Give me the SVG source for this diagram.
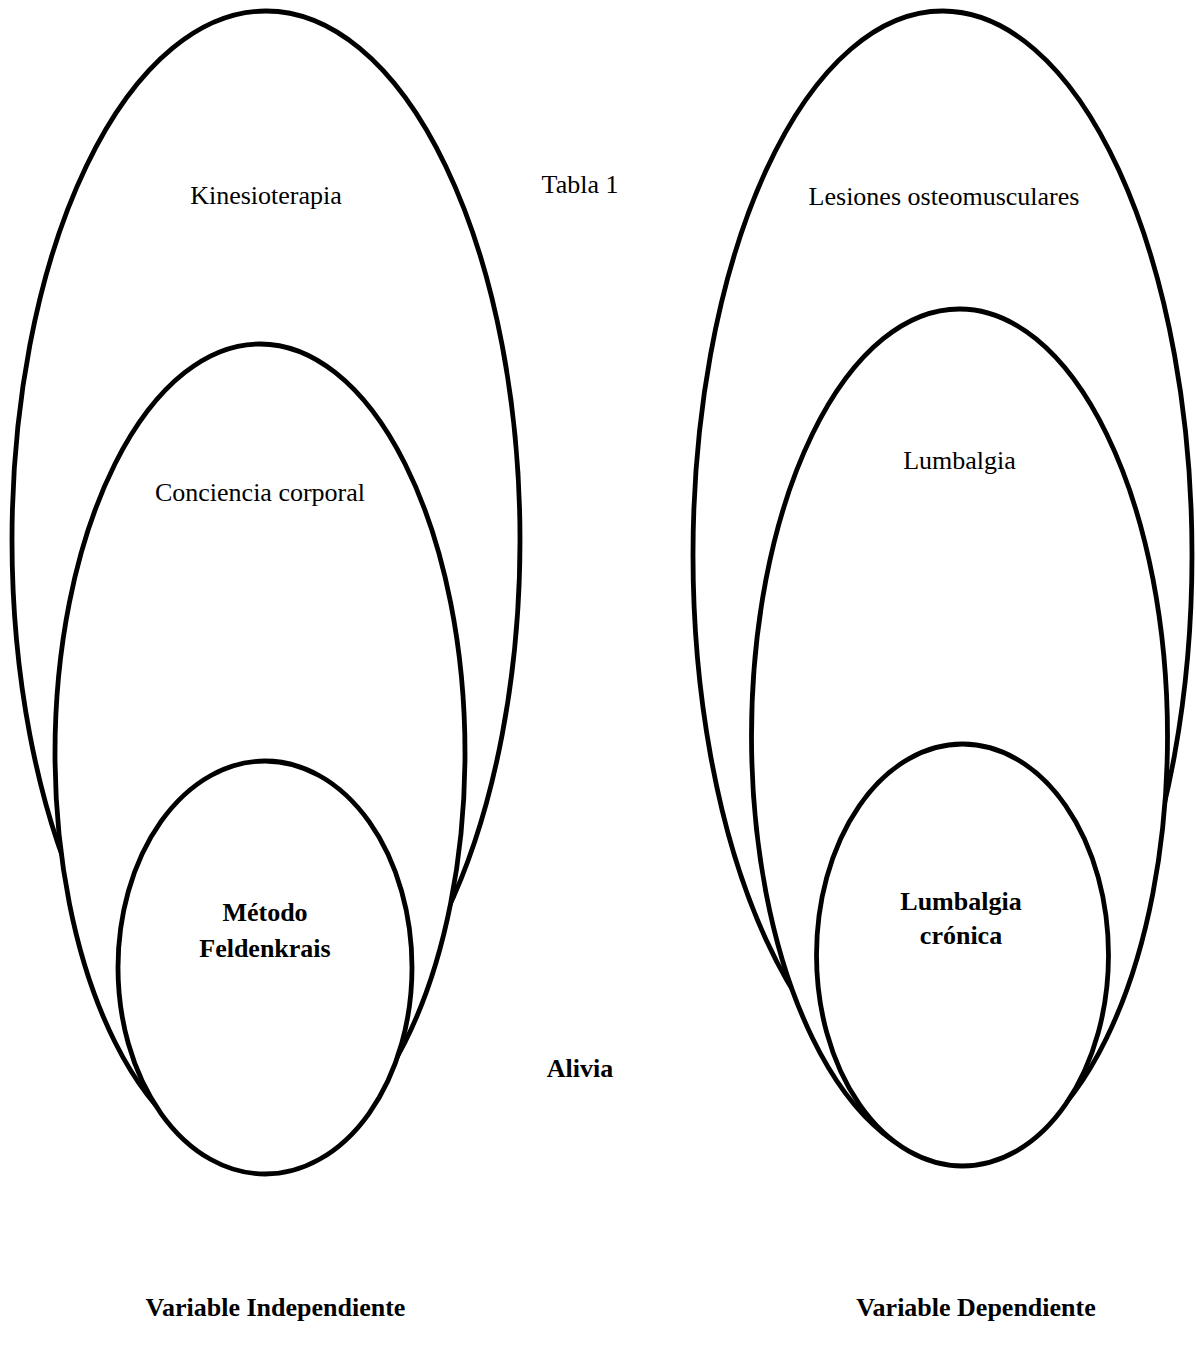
<svg xmlns="http://www.w3.org/2000/svg" width="1196" height="1348" viewBox="0 0 1196 1348">
<style>
.sh{fill:#fff;stroke:#000;stroke-width:4.8}
.t{font-family:"Liberation Serif","Times New Roman",serif;font-size:26px;fill:#000;text-anchor:middle}
.b{font-weight:bold}
</style>
<rect width="1196" height="1348" fill="#fff"/>
<g id="kinesioterapia">
<ellipse class="sh" cx="266" cy="540" rx="254" ry="529"/>
<text class="t" x="266" y="204">Kinesioterapia</text>
</g>
<g id="conciencia-corporal">
<ellipse class="sh" cx="260" cy="753" rx="205" ry="409"/>
<text class="t" x="260" y="501">Conciencia corporal</text>
</g>
<g id="metodo-feldenkrais">
<ellipse class="sh" cx="265" cy="967.5" rx="147" ry="206.5"/>
<text class="t b" x="265" y="921">Método</text>
<text class="t b" x="265" y="957">Feldenkrais</text>
</g>
<g id="lesiones">
<ellipse class="sh" cx="942.5" cy="555" rx="249.5" ry="544"/>
<text class="t" x="944" y="205">Lesiones osteomusculares</text>
</g>
<g id="lumbalgia">
<ellipse class="sh" cx="959.5" cy="736" rx="208" ry="427"/>
<text class="t" x="959.5" y="469">Lumbalgia</text>
</g>
<g id="lumbalgia-cronica">
<ellipse class="sh" cx="962.5" cy="955" rx="146" ry="211"/>
<text class="t b" x="961" y="910">Lumbalgia</text>
<text class="t b" x="961" y="944">crónica</text>
</g>
<g id="labels">
<text class="t" x="580" y="193">Tabla 1</text>
<text class="t b" x="580" y="1077">Alivia</text>
<text class="t b" x="275.5" y="1316">Variable Independiente</text>
<text class="t b" x="976" y="1316">Variable Dependiente</text>
</g>
<g id="connectors"></g>
</svg>
